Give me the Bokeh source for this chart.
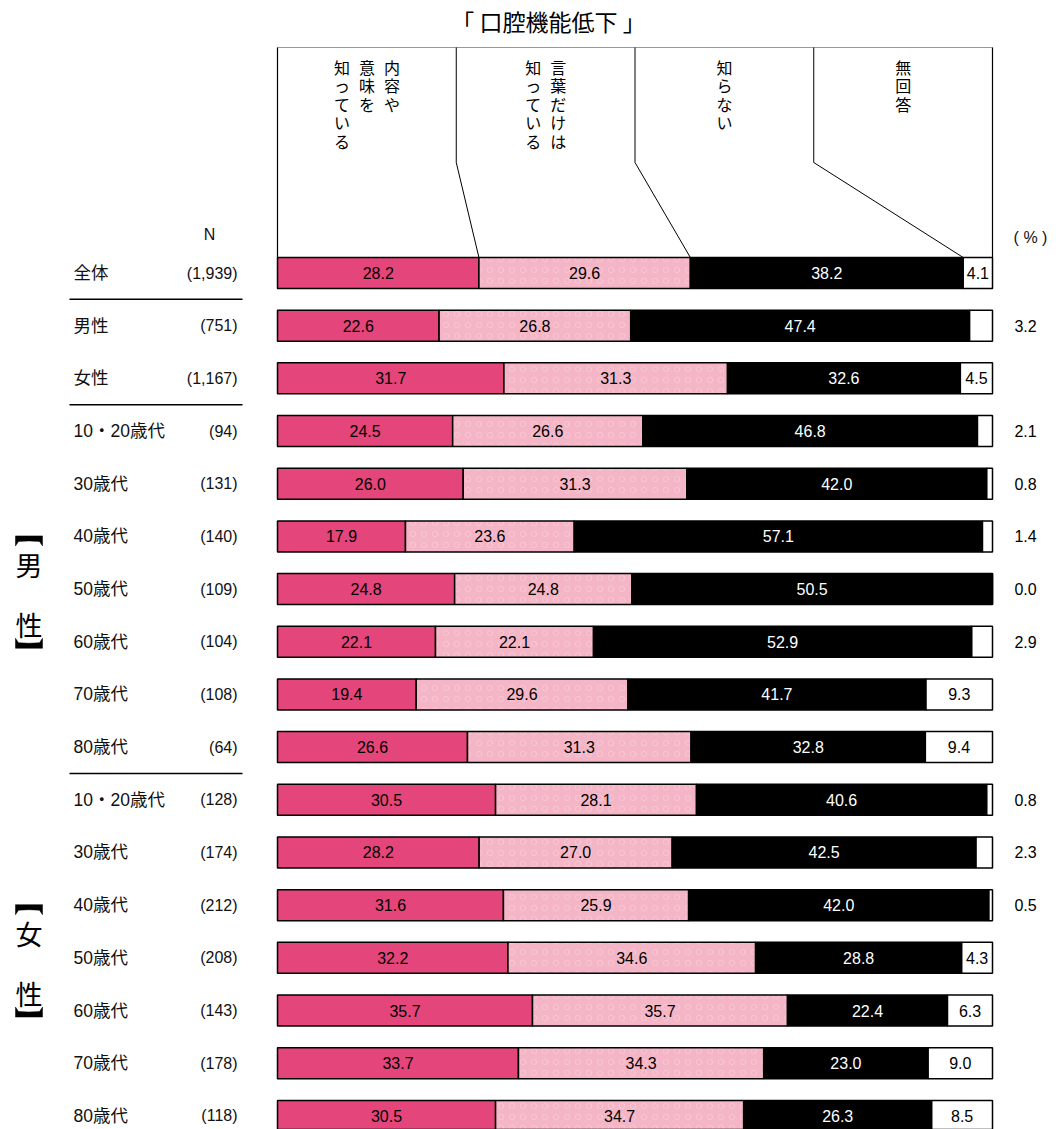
from bokeh.plotting import figure
from bokeh.models import Range1d, ColumnDataSource
from bokeh.core.properties import value
from bokeh.embed import file_html
from bokeh.resources import INLINE

# ---------------- data ----------------
title = "「 口腔機能低下 」"
categories = ["内容や意味を知っている", "言葉だけは知っている", "知らない", "無回答"]
header_cols = [["内容や", "意味を", "知っている"], ["言葉だけは", "知っている"], ["知らない"], ["無回答"]]
row_labels = ["全体", "男性", "女性", "10・20歳代", "30歳代", "40歳代", "50歳代", "60歳代", "70歳代", "80歳代",
              "10・20歳代", "30歳代", "40歳代", "50歳代", "60歳代", "70歳代", "80歳代"]
n_labels = ["(1,939)", "(751)", "(1,167)", "(94)", "(131)", "(140)", "(109)", "(104)", "(108)", "(64)",
            "(128)", "(174)", "(212)", "(208)", "(143)", "(178)", "(118)"]
know = [28.2, 22.6, 31.7, 24.5, 26.0, 17.9, 24.8, 22.1, 19.4, 26.6, 30.5, 28.2, 31.6, 32.2, 35.7, 33.7, 30.5]
words = [29.6, 26.8, 31.3, 26.6, 31.3, 23.6, 24.8, 22.1, 29.6, 31.3, 28.1, 27.0, 25.9, 34.6, 35.7, 34.3, 34.7]
dont = [38.2, 47.4, 32.6, 46.8, 42.0, 57.1, 50.5, 52.9, 41.7, 32.8, 40.6, 42.5, 42.0, 28.8, 22.4, 23.0, 26.3]
no_ans = [4.1, 3.2, 4.5, 2.1, 0.8, 1.4, 0.0, 2.9, 9.3, 9.4, 0.8, 2.3, 0.5, 4.3, 6.3, 9.0, 8.5]
group_labels = [("男", "性"), ("女", "性")]
group_rows = [(5, 7), (12, 14)]
separator_after = [0, 2, 9]

# ---------------- layout ----------------
W, H = 1058, 1129
X0, SCALE = 277.0, 7.15  # screen px of 0 %, px per %
def pc(px_screen):
    return (px_screen - X0) / SCALE

ROW0, STEP, BAR_H = 272.5, 52.68, 31
ys = [ROW0 + i * STEP for i in range(len(row_labels))]

colors = ["#E4457A", "#F4B6C6", "#000000", "#FFFFFF"]
text_colors = ["#000000", "#000000", "#FFFFFF", "#000000"]

p = figure(width=W, height=H, output_backend="svg", toolbar_location=None,
           x_range=Range1d(-X0 / SCALE, (W - X0) / SCALE), y_range=Range1d(H, 0),
           min_border=0, outline_line_color=None)
p.axis.visible = False
p.grid.visible = False
p.background_fill_color = "white"

CJK = "'Liberation Sans', 'Noto Sans CJK JP'"
NUM = "'Liberation Sans', Arial"

series = [know, words, dont, no_ans]
totals = [sum(s[i] for s in series) for i in range(len(row_labels))]
cum = [[0.0] * len(row_labels) for _ in range(5)]
for k, s in enumerate(series):
    for i in range(len(row_labels)):
        cum[k + 1][i] = cum[k][i] + s[i] * 100.0 / totals[i]

for k, s in enumerate(series):
    src = ColumnDataSource(dict(y=ys, left=cum[k], right=cum[k + 1]))
    kw = {}
    if k == 1:
        kw = dict(hatch_pattern="ring", hatch_color="#F8CAD6", hatch_scale=11, hatch_weight=1.0, hatch_alpha=0.7)
    p.hbar(y="y", left="left", right="right", height=BAR_H, source=src,
           fill_color=colors[k], line_color="black", line_width=1.5, **kw)

# value labels
for k, s in enumerate(series):
    xs_in, ys_in, tx_in = [], [], []
    xs_out, ys_out, tx_out = [], [], []
    for i, v in enumerate(s):
        if k == 3 and v < 4.0:
            xs_out.append(pc(1025)); ys_out.append(ys[i]); tx_out.append(f"{v:.1f}")
        else:
            xs_in.append((cum[k][i] + cum[k + 1][i]) / 2); ys_in.append(ys[i]); tx_in.append(f"{v:.1f}")
    p.text(x=xs_in, y=ys_in, text=tx_in, text_align="center", text_baseline="middle",
           text_font=value(NUM), text_font_size="16px", text_color=text_colors[k])
    if xs_out:
        p.text(x=xs_out, y=ys_out, text=tx_out, text_align="center", text_baseline="middle",
               text_font=value(NUM), text_font_size="16px", text_color="black")

# row labels
p.text(x=[pc(73)] * len(ys), y=ys, text=row_labels, text_align="left", text_baseline="middle",
       text_font=value(CJK), text_font_size="17.5px", text_color="#111111")
p.text(x=[pc(237)] * len(ys), y=ys, text=n_labels, text_align="right", text_baseline="middle",
       text_font=value(NUM), text_font_size="16px", text_color="#111111")
p.text(x=[pc(209)], y=[234], text=["N"], text_align="center", text_baseline="middle",
       text_font=value(NUM), text_font_size="16px", text_color="#111111")
p.text(x=[pc(1030)], y=[237], text=["( % )"], text_align="center", text_baseline="middle",
       text_font=value(NUM), text_font_size="16px", text_color="#111111")

# separators
sep_y = [(ys[i] + ys[i + 1]) / 2 for i in separator_after]
p.segment(x0=[pc(69)] * 3, x1=[pc(242)] * 3, y0=sep_y, y1=sep_y, line_color="black", line_width=1.5)

# group labels (vertical) with drawn lenticular brackets
def bracket(cx, y_edge, d):
    # d = +1: opens downward (top bracket), -1: opens upward (bottom bracket)
    hw = 13.5
    xs_px = [cx - hw, cx + hw, cx + hw, cx + hw - 3, cx, cx - hw + 3, cx - hw]
    ys_px = [y_edge, y_edge, y_edge + d * 10, y_edge + d * 5.5, y_edge + d * 5, y_edge + d * 5.5, y_edge + d * 10]
    return [pc(x) for x in xs_px], ys_px

gx, gy = [], []
for (c1, c2), (r0, r1) in zip(group_labels, group_rows):
    ya, yb = ys[r0] + 28, ys[r1] - 17
    p.text(x=[pc(28.5)] * 2, y=[ya, yb], text=[c1, c2],
           text_align="center", text_baseline="middle", text_font=value("Noto Sans CJK JP"),
           text_font_size="27px", text_color="black")
    bx, by = bracket(28.5, ys[r0] - 0.5, 1)
    gx.append(bx); gy.append(by)
    bx, by = bracket(28.5, ys[r1] + 6.5, -1)
    gx.append(bx); gy.append(by)
p.patches(xs=gx, ys=gy, fill_color="black", line_color="black", line_width=0.5)

# title
p.text(x=[pc(548)], y=[20], text=[title], text_align="center", text_baseline="middle",
       text_font=value("Noto Sans CJK JP"), text_font_size="23px", text_color="black")

# header box
TOP, KINK, BOT = 47, 162, ys[0] - BAR_H / 2
p.segment(x0=[0], x1=[100], y0=[TOP], y1=[TOP], line_color="#999999", line_width=1.2)
p.segment(x0=[0, 100], x1=[0, 100], y0=[TOP, TOP], y1=[BOT, BOT], line_color="black", line_width=1.2)
for k in range(1, 4):
    top_x = 25 * k
    p.line(x=[top_x, top_x, cum[k][0]], y=[TOP, KINK, BOT], line_color="black", line_width=1)

# header vertical text
CH_STEP, COL_STEP = 18.4, 25
for c, cols in enumerate(header_cols):
    center = 12.5 + 25 * c
    m = len(cols)
    for j, s in enumerate(cols):
        xcol = center + ((m - 1) / 2 - j) * COL_STEP / SCALE
        chars = list(s)
        p.text(x=[xcol] * len(chars), y=[66.5 + t * CH_STEP for t in range(len(chars))], text=chars,
               text_align="center", text_baseline="middle", text_font=value("Noto Sans CJK JP"),
               text_font_size="16px", text_color="black")

open("out.html", "w").write(file_html(p, INLINE))
